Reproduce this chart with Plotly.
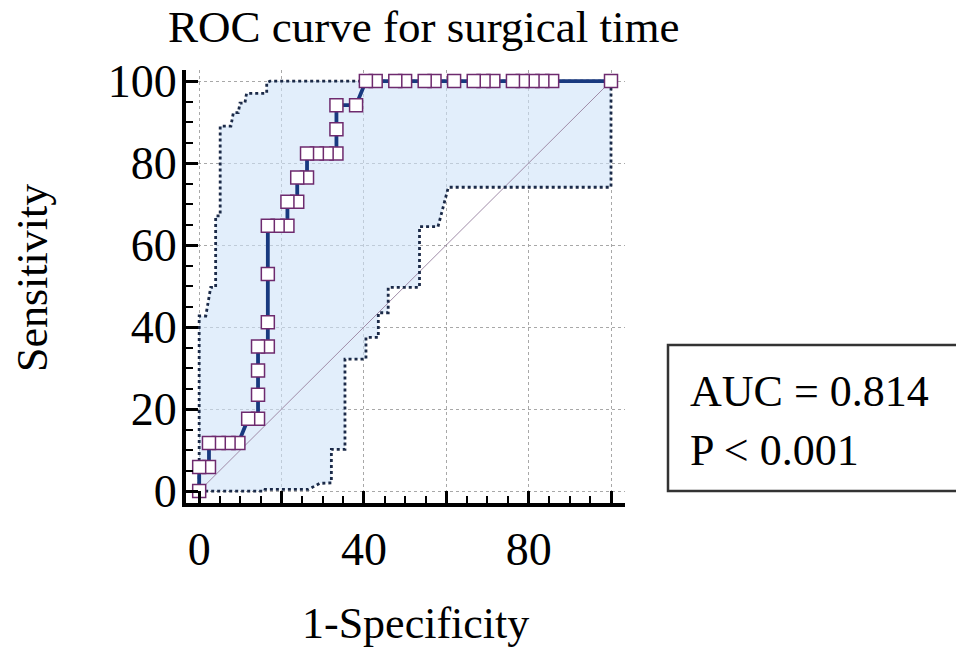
import plotly.graph_objects as go

# ---- data (percent) ----
fpr = [0, 0, 2.38, 2.38, 4.76, 7.14, 9.52, 11.90, 14.29, 14.29, 14.29, 14.29,
       16.67, 16.67, 16.67, 16.67, 19.05, 21.43, 21.43, 23.81, 23.81, 26.19,
       26.19, 28.57, 30.95, 33.33, 33.33, 33.33, 38.10, 40.48, 42.86, 47.62,
       50.00, 54.76, 57.14, 61.90, 66.67, 69.05, 71.43, 76.19, 78.57, 80.95,
       83.33, 85.71, 100]
sens = [0, 5.88, 5.88, 11.76, 11.76, 11.76, 11.76, 17.65, 17.65, 23.53, 29.41,
        35.29, 35.29, 41.18, 52.94, 64.71, 64.71, 64.71, 70.59, 70.59, 76.47,
        76.47, 82.35, 82.35, 82.35, 82.35, 88.24, 94.12, 94.12, 100, 100, 100,
        100, 100, 100, 100, 100, 100, 100, 100, 100, 100, 100, 100, 100]

upper_x = [0, 0, 1.6, 2.8, 4.0, 4.0, 5.1, 5.1, 7.7, 8.3, 9.5, 9.9, 11.1, 11.5,
           16.4, 16.4, 17.2, 100]
upper_y = [0, 42.7, 42.7, 49.7, 49.7, 67.1, 67.1, 89.0, 89.0, 92.3, 92.3, 94.6,
           94.6, 97.0, 97.0, 99.6, 100, 100]

lower_x = [0, 15.9, 16.0, 26.5, 29.3, 32.1, 32.1, 35.4, 35.4, 40.5, 40.5, 43.5,
           43.5, 45.9, 45.9, 53.5, 53.5, 58.0, 60.5, 100, 100]
lower_y = [0, 0, 0.4, 0.4, 1.9, 2.0, 10.2, 10.2, 32.2, 32.2, 37.5, 37.5, 43.5,
           43.5, 49.7, 49.7, 64.5, 64.5, 74.1, 74.1, 100]

ref_x = [0, 100]
ref_y = [0, 100]

tick_vals = [0, 20, 40, 60, 80, 100]
x_tick_text = ["0", "", "40", "", "80", ""]
y_tick_text = ["0", "20", "40", "60", "80", "100"]

title_text = "ROC curve for surgical time"
x_title = "1-Specificity"
y_title = "Sensitivity"
auc_text = "AUC = 0.814"
p_text = "P &lt; 0.001"

FONT = "Liberation Serif, Times New Roman, serif"

fig = go.Figure()

# confidence band fill
fig.add_trace(go.Scatter(
    x=upper_x + lower_x[::-1], y=upper_y + lower_y[::-1],
    fill="toself", fillcolor="rgba(206,226,248,0.6)",
    line=dict(width=0), mode="lines", hoverinfo="skip", showlegend=False))

# reference diagonal
fig.add_trace(go.Scatter(x=ref_x, y=ref_y, mode="lines",
                         line=dict(color="#a08ca8", width=1), showlegend=False))

# band boundaries
for bx, by in ((upper_x, upper_y), (lower_x, lower_y)):
    fig.add_trace(go.Scatter(x=bx, y=by, mode="lines",
                             line=dict(color="#1b2a48", width=2.8, dash="dot"),
                             showlegend=False))

# ROC curve (drawn from high to low so earlier points sit on top)
fig.add_trace(go.Scatter(
    x=fpr[::-1], y=sens[::-1], mode="lines+markers",
    line=dict(color="#18397f", width=3.8),
    marker=dict(symbol="square", size=13, color="white",
                line=dict(color="#6e2a6e", width=1.5)),
    showlegend=False))

axis_common = dict(
    showline=True, linewidth=4, linecolor="black", mirror=False,
    ticks="inside", ticklen=12, tickwidth=3, tickcolor="black",
    showgrid=True, gridcolor="#a8a8a8", griddash="dot", gridwidth=1,
    zeroline=False, tickmode="array", tickvals=tick_vals,
    tickfont=dict(family=FONT, size=46, color="black"),
    minor=dict(ticks="inside", ticklen=7, tickwidth=2, tickcolor="black",
               tickmode="linear", tick0=0, dtick=5, showgrid=False),
)

fig.update_xaxes(range=[-3.2, 103.4], ticktext=x_tick_text,
                 ticklabelstandoff=3, **axis_common)
fig.update_yaxes(range=[-2.9, 102.7], ticktext=y_tick_text,
                 ticklabelstandoff=-4, **axis_common)

L, R, T, B = 186, 331, 70, 144
W, H = 956, 647
pw, ph = W - L - R, H - T - B


def px(xp):
    return (xp - L) / pw


def py(yp):
    return (H - B - yp) / ph


annos = [
    dict(text=title_text, x=px(423.5), y=py(27), xanchor="center", yanchor="middle",
         font=dict(family=FONT, size=45, color="black")),
    dict(text=x_title, x=px(415), y=py(623), xanchor="center", yanchor="middle",
         font=dict(family=FONT, size=44, color="black")),
    dict(text=y_title, x=px(32), y=py(278), xanchor="center", yanchor="middle",
         textangle=-90, font=dict(family=FONT, size=44, color="black")),
    dict(text=auc_text, x=px(688), y=py(391.5), xanchor="left", yanchor="middle",
         font=dict(family=FONT, size=44, color="black")),
    dict(text=p_text, x=px(688), y=py(450.5), xanchor="left", yanchor="middle",
         font=dict(family=FONT, size=44, color="black")),
]
for a in annos:
    a.update(xref="paper", yref="paper", showarrow=False)

fig.update_layout(
    width=W, height=H, margin=dict(l=L, r=R, t=T, b=B),
    paper_bgcolor="white", plot_bgcolor="white",
    annotations=annos,
    shapes=[dict(type="rect", xref="paper", yref="paper",
                 x0=px(668), x1=px(962), y0=py(491), y1=py(345),
                 line=dict(color="#333333", width=2.5), fillcolor="rgba(0,0,0,0)")],
    showlegend=False,
)

fig.write_html("out.html", config={"displayModeBar": False},
               post_script="document.body.style.margin='0';document.body.style.overflow='hidden';")
